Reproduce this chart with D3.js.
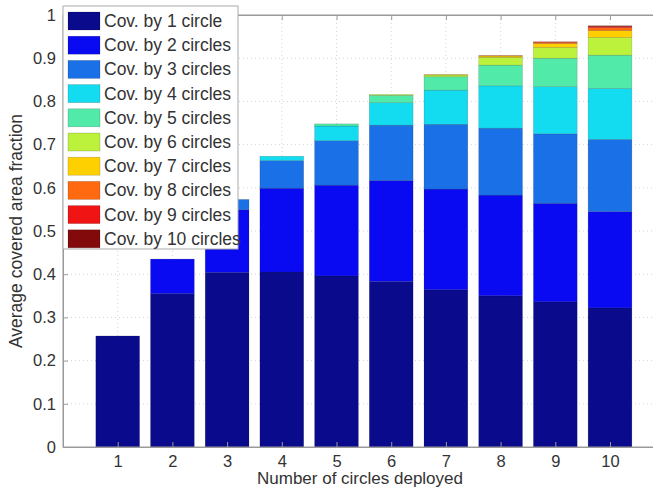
<!DOCTYPE html>
<html><head><meta charset="utf-8">
<script src="https://cdn.jsdelivr.net/npm/d3@7"></script>
<style>
html,body{margin:0;padding:0;background:#fff;}
svg{display:block;}
text{font-family:"Liberation Sans",Arial,sans-serif;fill:#333;}
</style></head>
<body>
<svg id="c" width="653" height="488"></svg>
<script>
// ---- data ----
const circlesDeployed = [1,2,3,4,5,6,7,8,9,10];
const seriesNames = ["Cov. by 1 circle","Cov. by 2 circles","Cov. by 3 circles","Cov. by 4 circles","Cov. by 5 circles",
  "Cov. by 6 circles","Cov. by 7 circles","Cov. by 8 circles","Cov. by 9 circles","Cov. by 10 circles"];
const cov1  = [0.257,0.355,0.404,0.405,0.396,0.383,0.364,0.350,0.336,0.322];
const cov2  = [0,0.080,0.145,0.194,0.210,0.234,0.233,0.233,0.228,0.223];
const cov3  = [0,0,0.024,0.064,0.103,0.128,0.150,0.155,0.161,0.167];
const cov4  = [0,0,0,0.010,0.034,0.052,0.079,0.098,0.109,0.118];
const cov5  = [0,0,0,0,0.005,0.017,0.031,0.048,0.066,0.077];
const cov6  = [0,0,0,0,0,0.002,0.004,0.018,0.025,0.041];
const cov7  = [0,0,0,0,0,0,0.001,0.003,0.009,0.016];
const cov8  = [0,0,0,0,0,0,0,0.001,0.003,0.007];
const cov9  = [0,0,0,0,0,0,0,0,0.001,0.003];
const cov10 = [0,0,0,0,0,0,0,0,0,0.001];
const seriesColors = ["#0a0a8c","#0a0af2","#1a70e6","#14dcf0","#52eaa8","#bdf23c","#ffd000","#ff6a10","#f01414","#820a0a"];
const yTicks = [0,0.1,0.2,0.3,0.4,0.5,0.6,0.7,0.8,0.9,1];
const xLabel = "Number of circles deployed";
const yLabel = "Average covered area fraction";

const allSeries = [cov1,cov2,cov3,cov4,cov5,cov6,cov7,cov8,cov9,cov10];
const keys = seriesNames;
const table = circlesDeployed.map((n,i)=>{
  const row = {n};
  keys.forEach((k,j)=>row[k]=allSeries[j][i]);
  return row;
});

// ---- layout ----
const svg = d3.select("#c");
const L = 63, T = 15, B = 447;
const x = d3.scaleLinear().domain([0,11]).range([L, L + 11*54.7]);
const y = d3.scaleLinear().domain([0,1]).range([B, T]);
const R = x(11);

// grid
const grid = svg.append("g");
yTicks.slice(1,-1).forEach(t=>{
  grid.append("line").attr("x1",L).attr("x2",R).attr("y1",y(t)).attr("y2",y(t))
    .attr("stroke","#c8c8c8").attr("stroke-width",0.8).attr("stroke-dasharray","1,3");
});
circlesDeployed.forEach(t=>{
  grid.append("line").attr("x1",x(t)).attr("x2",x(t)).attr("y1",T).attr("y2",B)
    .attr("stroke","#c8c8c8").attr("stroke-width",0.8).attr("stroke-dasharray","1,3");
});

// bars
const stacked = d3.stack().keys(keys)(table);
const bw = x(0.8) - x(0);
const colorOf = d3.scaleOrdinal().domain(keys).range(seriesColors);
svg.append("g").selectAll("g").data(stacked).join("g")
  .attr("fill", d=>colorOf(d.key))
  .selectAll("rect").data(d=>d.filter(p=>p[1]-p[0]>0)).join("rect")
  .attr("x", d=>x(d.data.n)-bw/2)
  .attr("width", bw)
  .attr("y", d=>y(d[1]))
  .attr("height", d=>y(d[0])-y(d[1]))
  .attr("stroke","rgba(0,0,0,0.22)").attr("stroke-width",0.6);

// axes box
const axisColor = "#9a9a9a";
svg.append("rect").attr("x",L).attr("y",T).attr("width",R-L).attr("height",B-T)
  .attr("fill","none").attr("stroke",axisColor).attr("stroke-width",1);

const gy = svg.append("g").attr("transform",`translate(${L},0)`)
  .call(d3.axisLeft(y).tickValues(yTicks).tickFormat(d3.format("")).tickSize(-5).tickPadding(7));
const gx = svg.append("g").attr("transform",`translate(0,${B})`)
  .call(d3.axisBottom(x).tickValues(circlesDeployed).tickFormat(d3.format("d")).tickSize(-5).tickPadding(8));
const gt = svg.append("g").attr("transform",`translate(0,${T})`)
  .call(d3.axisTop(x).tickValues(circlesDeployed).tickFormat("").tickSize(-5));
const gr = svg.append("g").attr("transform",`translate(${R},0)`)
  .call(d3.axisRight(y).tickValues(yTicks).tickFormat("").tickSize(-5));
[gy,gx,gt,gr].forEach(g=>{
  g.select(".domain").attr("stroke",axisColor);
  g.selectAll(".tick line").attr("stroke",axisColor);
  g.selectAll("text").style("font-family","'Liberation Sans',Arial,sans-serif").style("font-size","16.5px").attr("fill","#333");
});

// axis labels
svg.append("text").attr("x",360).attr("y",484).attr("text-anchor","middle")
  .style("font-size","17px").text(xLabel);
svg.append("text").attr("transform",`translate(22,${y(0.5)}) rotate(-90)`).attr("text-anchor","middle")
  .style("font-size","17.5px").text(yLabel);

// legend
const lg = svg.append("g");
const lgX = 63, lgY = 6, lgW = 175, lgH = 243;
lg.append("rect").attr("x",lgX).attr("y",lgY).attr("width",lgW).attr("height",lgH)
  .attr("fill","#fff").attr("stroke","#aaa").attr("stroke-width",1);
const pitch = 24.2;
keys.forEach((k,i)=>{
  const yy = lgY + 6 + i*pitch;
  lg.append("rect").attr("x",lgX+5).attr("y",yy).attr("width",32).attr("height",18)
    .attr("fill",colorOf(k)).attr("stroke","rgba(0,0,0,0.25)").attr("stroke-width",0.6);
  lg.append("text").attr("x",lgX+41).attr("y",yy+15).style("font-size","17.5px").text(k);
});
</script>
</body></html>
